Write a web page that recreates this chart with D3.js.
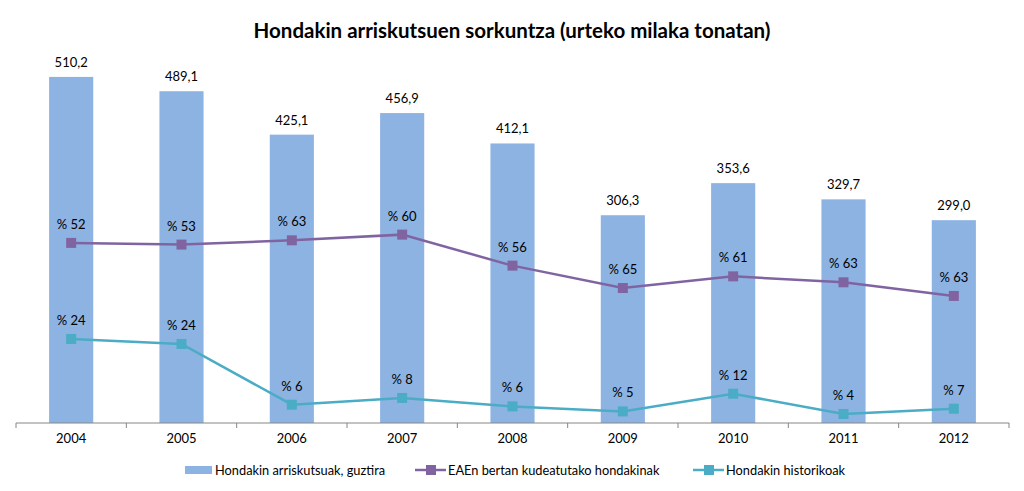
<!DOCTYPE html>
<html>
<head>
<meta charset="utf-8">
<style>
  body { margin: 0; background: #fff; }
  svg text { font-family: Lato, "Liberation Sans", sans-serif; fill: #000; }
</style>
</head>
<body>
<svg id="chart"></svg>
<script src="https://d3js.org/d3.v7.min.js"></script>
<script>
  const width = 1024;
  const height = 491;

  // data
  const years = ["2004", "2005", "2006", "2007", "2008", "2009", "2010", "2011", "2012"];
  const totals = [510.2, 489.1, 425.1, 456.9, 412.1, 306.3, 353.6, 329.7, 299.0];
  const totalLabels = ["510,2", "489,1", "425,1", "456,9", "412,1", "306,3", "353,6", "329,7", "299,0"];
  const managed = [265.5, 263.0, 269.3, 277.7, 232.0, 199.0, 216.2, 207.4, 187.3];
  const managedLabels = ["% 52", "% 53", "% 63", "% 60", "% 56", "% 65", "% 61", "% 63", "% 63"];
  const historic = [123.9, 116.5, 27.0, 36.9, 24.5, 17.1, 43.2, 13.3, 21.1];
  const historicLabels = ["% 24", "% 24", "% 6", "% 8", "% 6", "% 5", "% 12", "% 4", "% 7"];

  const seriesNames = ["Hondakin arriskutsuak, guztira", "EAEn bertan kudeatutako hondakinak", "Hondakin historikoak"];
  const barColor = "#8db3e2";
  const purple = "#8064a2";
  const cyan = "#4bacc6";

  const svg = d3.select("#chart").attr("width", width).attr("height", height);

  const margin = { left: 16, right: 15, top: 16, bottom: 68 };
  const x = d3.scaleBand().domain(years)
      .range([margin.left, width - margin.right]).paddingInner(0).paddingOuter(0);
  const y = d3.scaleLinear().domain([0, 600]).range([height - margin.bottom, margin.top]);

  svg.append("text")
      .attr("x", 512).attr("y", 38)
      .attr("text-anchor", "middle")
      .attr("font-size", 20.5).attr("font-weight", "bold")
      .text("Hondakin arriskutsuen sorkuntza (urteko milaka tonatan)");

  // bars
  const barW = x.bandwidth() * 0.4;
  svg.append("g").selectAll("rect")
      .data(totals).enter().append("rect")
      .attr("x", (d, i) => x(years[i]) + (x.bandwidth() - barW) / 2)
      .attr("y", d => y(d))
      .attr("width", barW)
      .attr("height", d => y(0) - y(d))
      .attr("fill", barColor);

  svg.append("g").selectAll("text")
      .data(totals).enter().append("text")
      .attr("x", (d, i) => x(years[i]) + x.bandwidth() / 2)
      .attr("y", d => y(d) - 10)
      .attr("text-anchor", "middle")
      .attr("font-size", 13)
      .text((d, i) => totalLabels[i]);

  // x axis
  const axisG = svg.append("g").attr("transform", `translate(0,${y(0)})`);
  axisG.append("line")
      .attr("x1", margin.left).attr("x2", width - margin.right)
      .attr("stroke", "#868686");
  const bounds = years.map(yr => x(yr)).concat([x.range()[1]]);
  axisG.selectAll(".tk").data(bounds).enter().append("line")
      .attr("x1", d => d).attr("x2", d => d)
      .attr("y1", 0).attr("y2", 5)
      .attr("stroke", "#868686");
  axisG.selectAll(".yl").data(years).enter().append("text")
      .attr("x", d => x(d) + x.bandwidth() / 2)
      .attr("y", 20)
      .attr("text-anchor", "middle")
      .attr("font-size", 13)
      .text(d => d);

  function drawLine(values, labels, color) {
    const line = d3.line()
        .x((d, i) => x(years[i]) + x.bandwidth() / 2)
        .y(d => y(d));
    const g = svg.append("g");
    g.append("path").datum(values)
        .attr("d", line)
        .attr("fill", "none")
        .attr("stroke", color)
        .attr("stroke-width", 2.5);
    g.selectAll("rect").data(values).enter().append("rect")
        .attr("x", (d, i) => x(years[i]) + x.bandwidth() / 2 - 5)
        .attr("y", d => y(d) - 5)
        .attr("width", 10).attr("height", 10)
        .attr("fill", color);
    g.selectAll("text").data(values).enter().append("text")
        .attr("x", (d, i) => x(years[i]) + x.bandwidth() / 2)
        .attr("y", d => y(d) - 14)
        .attr("text-anchor", "middle")
        .attr("font-size", 13)
        .text((d, i) => labels[i]);
  }
  drawLine(managed, managedLabels, purple);
  drawLine(historic, historicLabels, cyan);

  // legend
  const leg = svg.append("g").attr("transform", "translate(0,470)");
  leg.append("rect").attr("x", 185).attr("y", -4).attr("width", 27).attr("height", 8).attr("fill", barColor);
  leg.append("text").attr("x", 215).attr("y", 5).attr("font-size", 12.8).text(seriesNames[0]);

  [[415, purple, seriesNames[1]], [693, cyan, seriesNames[2]]].forEach(([lx, c, name]) => {
    leg.append("line").attr("x1", lx).attr("x2", lx + 31).attr("stroke", c).attr("stroke-width", 2.5);
    leg.append("rect").attr("x", lx + 11).attr("y", -5).attr("width", 10).attr("height", 10).attr("fill", c);
    leg.append("text").attr("x", lx + 33).attr("y", 5).attr("font-size", 12.8).text(name);
  });
</script>
</body>
</html>
